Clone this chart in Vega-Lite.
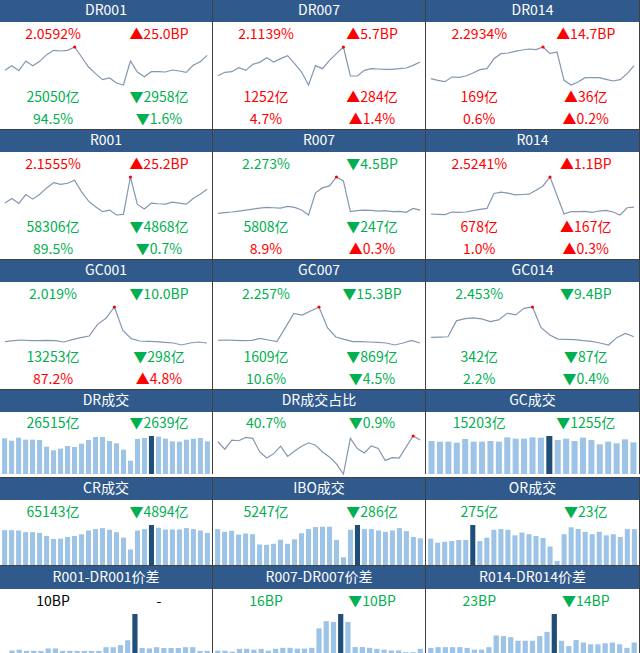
{
"$schema":"https://vega.github.io/schema/vega-lite/v6.json",
"padding":0,
"background":"#FFFFFF",
"spacing":0,
"config":{"view":{"stroke":null},"axis":{"disable":true},"legend":{"disable":true},"concat":{"spacing":0},"text":{"font":"Noto Sans CJK SC","fontSize":14}},
"datasets":{
"tx":[
{"c":"DR001","s":"top","k":"level","v":"2.0592%","dir":"up"},{"c":"DR001","s":"top","k":"change","v":"▲25.0BP","dir":"up"},{"c":"DR001","s":"vol","k":"level","v":"25050亿","dir":"down"},{"c":"DR001","s":"vol","k":"change","v":"▼2958亿","dir":"down"},{"c":"DR001","s":"share","k":"level","v":"94.5%","dir":"down"},{"c":"DR001","s":"share","k":"change","v":"▼1.6%","dir":"down"},
{"c":"DR007","s":"top","k":"level","v":"2.1139%","dir":"up"},{"c":"DR007","s":"top","k":"change","v":"▲5.7BP","dir":"up"},{"c":"DR007","s":"vol","k":"level","v":"1252亿","dir":"up"},{"c":"DR007","s":"vol","k":"change","v":"▲284亿","dir":"up"},{"c":"DR007","s":"share","k":"level","v":"4.7%","dir":"up"},{"c":"DR007","s":"share","k":"change","v":"▲1.4%","dir":"up"},
{"c":"DR014","s":"top","k":"level","v":"2.2934%","dir":"up"},{"c":"DR014","s":"top","k":"change","v":"▲14.7BP","dir":"up"},{"c":"DR014","s":"vol","k":"level","v":"169亿","dir":"up"},{"c":"DR014","s":"vol","k":"change","v":"▲36亿","dir":"up"},{"c":"DR014","s":"share","k":"level","v":"0.6%","dir":"up"},{"c":"DR014","s":"share","k":"change","v":"▲0.2%","dir":"up"},
{"c":"R001","s":"top","k":"level","v":"2.1555%","dir":"up"},{"c":"R001","s":"top","k":"change","v":"▲25.2BP","dir":"up"},{"c":"R001","s":"vol","k":"level","v":"58306亿","dir":"down"},{"c":"R001","s":"vol","k":"change","v":"▼4868亿","dir":"down"},{"c":"R001","s":"share","k":"level","v":"89.5%","dir":"down"},{"c":"R001","s":"share","k":"change","v":"▼0.7%","dir":"down"},
{"c":"R007","s":"top","k":"level","v":"2.273%","dir":"down"},{"c":"R007","s":"top","k":"change","v":"▼4.5BP","dir":"down"},{"c":"R007","s":"vol","k":"level","v":"5808亿","dir":"down"},{"c":"R007","s":"vol","k":"change","v":"▼247亿","dir":"down"},{"c":"R007","s":"share","k":"level","v":"8.9%","dir":"up"},{"c":"R007","s":"share","k":"change","v":"▲0.3%","dir":"up"},
{"c":"R014","s":"top","k":"level","v":"2.5241%","dir":"up"},{"c":"R014","s":"top","k":"change","v":"▲1.1BP","dir":"up"},{"c":"R014","s":"vol","k":"level","v":"678亿","dir":"up"},{"c":"R014","s":"vol","k":"change","v":"▲167亿","dir":"up"},{"c":"R014","s":"share","k":"level","v":"1.0%","dir":"up"},{"c":"R014","s":"share","k":"change","v":"▲0.3%","dir":"up"},
{"c":"GC001","s":"top","k":"level","v":"2.019%","dir":"down"},{"c":"GC001","s":"top","k":"change","v":"▼10.0BP","dir":"down"},{"c":"GC001","s":"vol","k":"level","v":"13253亿","dir":"down"},{"c":"GC001","s":"vol","k":"change","v":"▼298亿","dir":"down"},{"c":"GC001","s":"share","k":"level","v":"87.2%","dir":"up"},{"c":"GC001","s":"share","k":"change","v":"▲4.8%","dir":"up"},
{"c":"GC007","s":"top","k":"level","v":"2.257%","dir":"down"},{"c":"GC007","s":"top","k":"change","v":"▼15.3BP","dir":"down"},{"c":"GC007","s":"vol","k":"level","v":"1609亿","dir":"down"},{"c":"GC007","s":"vol","k":"change","v":"▼869亿","dir":"down"},{"c":"GC007","s":"share","k":"level","v":"10.6%","dir":"down"},{"c":"GC007","s":"share","k":"change","v":"▼4.5%","dir":"down"},
{"c":"GC014","s":"top","k":"level","v":"2.453%","dir":"down"},{"c":"GC014","s":"top","k":"change","v":"▼9.4BP","dir":"down"},{"c":"GC014","s":"vol","k":"level","v":"342亿","dir":"down"},{"c":"GC014","s":"vol","k":"change","v":"▼87亿","dir":"down"},{"c":"GC014","s":"share","k":"level","v":"2.2%","dir":"down"},{"c":"GC014","s":"share","k":"change","v":"▼0.4%","dir":"down"},
{"c":"DRV","s":"top","k":"level","v":"26515亿","dir":"down"},{"c":"DRV","s":"top","k":"change","v":"▼2639亿","dir":"down"},
{"c":"DRS","s":"top","k":"level","v":"40.7%","dir":"down"},{"c":"DRS","s":"top","k":"change","v":"▼0.9%","dir":"down"},
{"c":"GCV","s":"top","k":"level","v":"15203亿","dir":"down"},{"c":"GCV","s":"top","k":"change","v":"▼1255亿","dir":"down"},
{"c":"CRV","s":"top","k":"level","v":"65143亿","dir":"down"},{"c":"CRV","s":"top","k":"change","v":"▼4894亿","dir":"down"},
{"c":"IBO","s":"top","k":"level","v":"5247亿","dir":"down"},{"c":"IBO","s":"top","k":"change","v":"▼286亿","dir":"down"},
{"c":"ORV","s":"top","k":"level","v":"275亿","dir":"down"},{"c":"ORV","s":"top","k":"change","v":"▼23亿","dir":"down"},
{"c":"SP1","s":"top","k":"level","v":"10BP","dir":"flat"},{"c":"SP1","s":"top","k":"change","v":"-","dir":"flat"},
{"c":"SP7","s":"top","k":"level","v":"16BP","dir":"down"},{"c":"SP7","s":"top","k":"change","v":"▼10BP","dir":"down"},
{"c":"SP14","s":"top","k":"level","v":"23BP","dir":"down"},{"c":"SP14","s":"top","k":"change","v":"▼14BP","dir":"down"}
],
"ln":[
{"c":"DR001","d":0,"r":1.9192},{"c":"DR001","d":1,"r":1.9472},{"c":"DR001","d":2,"r":1.9172},{"c":"DR001","d":3,"r":1.9752},{"c":"DR001","d":4,"r":1.9472},{"c":"DR001","d":5,"r":1.9732},{"c":"DR001","d":6,"r":2.0132},{"c":"DR001","d":7,"r":2.0392},{"c":"DR001","d":8,"r":2.0352},{"c":"DR001","d":9,"r":2.0392},{"c":"DR001","d":10,"r":2.0592},{"c":"DR001","d":11,"r":1.9992},{"c":"DR001","d":12,"r":1.9392},{"c":"DR001","d":13,"r":1.8992},{"c":"DR001","d":14,"r":1.8632},{"c":"DR001","d":15,"r":1.8732},{"c":"DR001","d":16,"r":1.8432},{"c":"DR001","d":17,"r":1.8312},{"c":"DR001","d":18,"r":1.9752},{"c":"DR001","d":19,"r":1.9092},{"c":"DR001","d":20,"r":1.8812},{"c":"DR001","d":21,"r":1.9112},{"c":"DR001","d":22,"r":1.9112},{"c":"DR001","d":23,"r":1.9092},{"c":"DR001","d":24,"r":1.9212},{"c":"DR001","d":25,"r":1.9152},{"c":"DR001","d":26,"r":1.9072},{"c":"DR001","d":27,"r":1.9492},{"c":"DR001","d":28,"r":1.9712},{"c":"DR001","d":29,"r":2.0092},
{"c":"DR007","d":0,"r":1.9419},{"c":"DR007","d":1,"r":1.9619},{"c":"DR007","d":2,"r":1.9659},{"c":"DR007","d":3,"r":1.9899},{"c":"DR007","d":4,"r":1.9739},{"c":"DR007","d":5,"r":2.0099},{"c":"DR007","d":6,"r":2.0219},{"c":"DR007","d":7,"r":2.0499},{"c":"DR007","d":8,"r":2.0239},{"c":"DR007","d":9,"r":2.0439},{"c":"DR007","d":10,"r":2.0619},{"c":"DR007","d":11,"r":2.0139},{"c":"DR007","d":12,"r":1.9639},{"c":"DR007","d":13,"r":1.8859},{"c":"DR007","d":14,"r":2.0019},{"c":"DR007","d":15,"r":1.9839},{"c":"DR007","d":16,"r":2.0339},{"c":"DR007","d":17,"r":2.0739},{"c":"DR007","d":18,"r":2.1139},{"c":"DR007","d":19,"r":1.9399},{"c":"DR007","d":20,"r":1.9399},{"c":"DR007","d":21,"r":1.9739},{"c":"DR007","d":22,"r":1.9839},{"c":"DR007","d":23,"r":1.9819},{"c":"DR007","d":24,"r":1.9799},{"c":"DR007","d":25,"r":1.9799},{"c":"DR007","d":26,"r":1.9839},{"c":"DR007","d":27,"r":1.9879},{"c":"DR007","d":28,"r":2.0039},{"c":"DR007","d":29,"r":2.0239},
{"c":"DR014","d":0,"r":2.1034},{"c":"DR014","d":1,"r":2.0934},{"c":"DR014","d":2,"r":2.0854},{"c":"DR014","d":3,"r":2.1134},{"c":"DR014","d":4,"r":2.1114},{"c":"DR014","d":5,"r":2.1194},{"c":"DR014","d":6,"r":2.1374},{"c":"DR014","d":7,"r":2.1574},{"c":"DR014","d":8,"r":2.1634},{"c":"DR014","d":9,"r":2.2234},{"c":"DR014","d":10,"r":2.2534},{"c":"DR014","d":11,"r":2.2574},{"c":"DR014","d":12,"r":2.2674},{"c":"DR014","d":13,"r":2.2754},{"c":"DR014","d":14,"r":2.2814},{"c":"DR014","d":15,"r":2.2774},{"c":"DR014","d":16,"r":2.2934},{"c":"DR014","d":17,"r":2.2534},{"c":"DR014","d":18,"r":2.2634},{"c":"DR014","d":19,"r":2.0934},{"c":"DR014","d":20,"r":2.0654},{"c":"DR014","d":21,"r":2.0834},{"c":"DR014","d":22,"r":2.1094},{"c":"DR014","d":23,"r":2.1094},{"c":"DR014","d":24,"r":2.1094},{"c":"DR014","d":25,"r":2.0994},{"c":"DR014","d":26,"r":2.0894},{"c":"DR014","d":27,"r":2.0974},{"c":"DR014","d":28,"r":2.1334},{"c":"DR014","d":29,"r":2.1814},
{"c":"R001","d":0,"r":1.9975},{"c":"R001","d":1,"r":2.0255},{"c":"R001","d":2,"r":1.9955},{"c":"R001","d":3,"r":2.0495},{"c":"R001","d":4,"r":2.0215},{"c":"R001","d":5,"r":2.0515},{"c":"R001","d":6,"r":2.0895},{"c":"R001","d":7,"r":2.1215},{"c":"R001","d":8,"r":2.1115},{"c":"R001","d":9,"r":2.1175},{"c":"R001","d":10,"r":2.1355},{"c":"R001","d":11,"r":2.0655},{"c":"R001","d":12,"r":2.0095},{"c":"R001","d":13,"r":1.9755},{"c":"R001","d":14,"r":1.9455},{"c":"R001","d":15,"r":1.9555},{"c":"R001","d":16,"r":1.9255},{"c":"R001","d":17,"r":1.9295},{"c":"R001","d":18,"r":2.1555},{"c":"R001","d":19,"r":1.9895},{"c":"R001","d":20,"r":1.9615},{"c":"R001","d":21,"r":1.9975},{"c":"R001","d":22,"r":1.9935},{"c":"R001","d":23,"r":1.9915},{"c":"R001","d":24,"r":2.0035},{"c":"R001","d":25,"r":1.9975},{"c":"R001","d":26,"r":1.9915},{"c":"R001","d":27,"r":2.0255},{"c":"R001","d":28,"r":2.0515},{"c":"R001","d":29,"r":2.0815},
{"c":"R007","d":0,"r":2.053},{"c":"R007","d":1,"r":2.057},{"c":"R007","d":2,"r":2.061},{"c":"R007","d":3,"r":2.067},{"c":"R007","d":4,"r":2.073},{"c":"R007","d":5,"r":2.079},{"c":"R007","d":6,"r":2.085},{"c":"R007","d":7,"r":2.089},{"c":"R007","d":8,"r":2.087},{"c":"R007","d":9,"r":2.085},{"c":"R007","d":10,"r":2.095},{"c":"R007","d":11,"r":2.089},{"c":"R007","d":12,"r":2.073},{"c":"R007","d":13,"r":2.043},{"c":"R007","d":14,"r":2.177},{"c":"R007","d":15,"r":2.207},{"c":"R007","d":16,"r":2.219},{"c":"R007","d":17,"r":2.273},{"c":"R007","d":18,"r":2.249},{"c":"R007","d":19,"r":2.063},{"c":"R007","d":20,"r":2.069},{"c":"R007","d":21,"r":2.073},{"c":"R007","d":22,"r":2.071},{"c":"R007","d":23,"r":2.067},{"c":"R007","d":24,"r":2.069},{"c":"R007","d":25,"r":2.063},{"c":"R007","d":26,"r":2.065},{"c":"R007","d":27,"r":2.059},{"c":"R007","d":28,"r":2.083},{"c":"R007","d":29,"r":2.073},
{"c":"R014","d":0,"r":2.3001},{"c":"R014","d":1,"r":2.2981},{"c":"R014","d":2,"r":2.2961},{"c":"R014","d":3,"r":2.3121},{"c":"R014","d":4,"r":2.3101},{"c":"R014","d":5,"r":2.3121},{"c":"R014","d":6,"r":2.3201},{"c":"R014","d":7,"r":2.3281},{"c":"R014","d":8,"r":2.3341},{"c":"R014","d":9,"r":2.4241},{"c":"R014","d":10,"r":2.4321},{"c":"R014","d":11,"r":2.4261},{"c":"R014","d":12,"r":2.4161},{"c":"R014","d":13,"r":2.4181},{"c":"R014","d":14,"r":2.4201},{"c":"R014","d":15,"r":2.4441},{"c":"R014","d":16,"r":2.4701},{"c":"R014","d":17,"r":2.5241},{"c":"R014","d":18,"r":2.4121},{"c":"R014","d":19,"r":2.3001},{"c":"R014","d":20,"r":2.3141},{"c":"R014","d":21,"r":2.3141},{"c":"R014","d":22,"r":2.3161},{"c":"R014","d":23,"r":2.3101},{"c":"R014","d":24,"r":2.3181},{"c":"R014","d":25,"r":2.3221},{"c":"R014","d":26,"r":2.3121},{"c":"R014","d":27,"r":2.2941},{"c":"R014","d":28,"r":2.3381},{"c":"R014","d":29,"r":2.3421},
{"c":"GC001","d":0,"r":1.811},{"c":"GC001","d":1,"r":1.817},{"c":"GC001","d":2,"r":1.821},{"c":"GC001","d":3,"r":1.817},{"c":"GC001","d":4,"r":1.817},{"c":"GC001","d":5,"r":1.819},{"c":"GC001","d":6,"r":1.817},{"c":"GC001","d":7,"r":1.809},{"c":"GC001","d":8,"r":1.823},{"c":"GC001","d":9,"r":1.835},{"c":"GC001","d":10,"r":1.845},{"c":"GC001","d":11,"r":1.915},{"c":"GC001","d":12,"r":1.951},{"c":"GC001","d":13,"r":2.019},{"c":"GC001","d":14,"r":1.879},{"c":"GC001","d":15,"r":1.829},{"c":"GC001","d":16,"r":1.815},{"c":"GC001","d":17,"r":1.813},{"c":"GC001","d":18,"r":1.811},{"c":"GC001","d":19,"r":1.807},{"c":"GC001","d":20,"r":1.803},{"c":"GC001","d":21,"r":1.791},{"c":"GC001","d":22,"r":1.803},{"c":"GC001","d":23,"r":1.809},{"c":"GC001","d":24,"r":1.803},
{"c":"GC007","d":0,"r":2.057},{"c":"GC007","d":1,"r":2.059},{"c":"GC007","d":2,"r":2.057},{"c":"GC007","d":3,"r":2.055},{"c":"GC007","d":4,"r":2.057},{"c":"GC007","d":5,"r":2.069},{"c":"GC007","d":6,"r":2.059},{"c":"GC007","d":7,"r":2.049},{"c":"GC007","d":8,"r":2.133},{"c":"GC007","d":9,"r":2.219},{"c":"GC007","d":10,"r":2.209},{"c":"GC007","d":11,"r":2.233},{"c":"GC007","d":12,"r":2.257},{"c":"GC007","d":13,"r":2.133},{"c":"GC007","d":14,"r":2.077},{"c":"GC007","d":15,"r":2.063},{"c":"GC007","d":16,"r":2.049},{"c":"GC007","d":17,"r":2.049},{"c":"GC007","d":18,"r":2.047},{"c":"GC007","d":19,"r":2.045},{"c":"GC007","d":20,"r":2.041},{"c":"GC007","d":21,"r":2.029},{"c":"GC007","d":22,"r":2.041},{"c":"GC007","d":23,"r":2.057},{"c":"GC007","d":24,"r":2.041},
{"c":"GC014","d":0,"r":2.269},{"c":"GC014","d":1,"r":2.271},{"c":"GC014","d":2,"r":2.273},{"c":"GC014","d":3,"r":2.369},{"c":"GC014","d":4,"r":2.383},{"c":"GC014","d":5,"r":2.387},{"c":"GC014","d":6,"r":2.381},{"c":"GC014","d":7,"r":2.365},{"c":"GC014","d":8,"r":2.375},{"c":"GC014","d":9,"r":2.415},{"c":"GC014","d":10,"r":2.405},{"c":"GC014","d":11,"r":2.445},{"c":"GC014","d":12,"r":2.453},{"c":"GC014","d":13,"r":2.329},{"c":"GC014","d":14,"r":2.285},{"c":"GC014","d":15,"r":2.259},{"c":"GC014","d":16,"r":2.257},{"c":"GC014","d":17,"r":2.255},{"c":"GC014","d":18,"r":2.249},{"c":"GC014","d":19,"r":2.245},{"c":"GC014","d":20,"r":2.235},{"c":"GC014","d":21,"r":2.223},{"c":"GC014","d":22,"r":2.269},{"c":"GC014","d":23,"r":2.293},{"c":"GC014","d":24,"r":2.273},
{"c":"DRS","d":0,"r":39.85},{"c":"DRS","d":1,"r":38.75},{"c":"DRS","d":2,"r":40.1},{"c":"DRS","d":3,"r":40.0},{"c":"DRS","d":4,"r":40.5},{"c":"DRS","d":5,"r":40.35},{"c":"DRS","d":6,"r":38.35},{"c":"DRS","d":7,"r":37.45},{"c":"DRS","d":8,"r":38.1},{"c":"DRS","d":9,"r":39.2},{"c":"DRS","d":10,"r":37.7},{"c":"DRS","d":11,"r":38.5},{"c":"DRS","d":12,"r":39.2},{"c":"DRS","d":13,"r":39.7},{"c":"DRS","d":14,"r":39.35},{"c":"DRS","d":15,"r":38.35},{"c":"DRS","d":16,"r":37.6},{"c":"DRS","d":17,"r":36.6},{"c":"DRS","d":18,"r":35.1},{"c":"DRS","d":19,"r":40.35},{"c":"DRS","d":20,"r":38.85},{"c":"DRS","d":21,"r":38.2},{"c":"DRS","d":22,"r":39.25},{"c":"DRS","d":23,"r":38.85},{"c":"DRS","d":24,"r":37.1},{"c":"DRS","d":25,"r":37.5},{"c":"DRS","d":26,"r":37.45},{"c":"DRS","d":27,"r":39.1},{"c":"DRS","d":28,"r":40.7},{"c":"DRS","d":29,"r":40.1}
],
"br":[
{"c":"DRV","d":0,"v":24888},{"c":"DRV","d":1,"v":23260},{"c":"DRV","d":2,"v":25353},{"c":"DRV","d":3,"v":23958},{"c":"DRV","d":4,"v":23958},{"c":"DRV","d":5,"v":23725},{"c":"DRV","d":6,"v":19073},{"c":"DRV","d":7,"v":16515},{"c":"DRV","d":8,"v":17678},{"c":"DRV","d":9,"v":19538},{"c":"DRV","d":10,"v":18841},{"c":"DRV","d":11,"v":21167},{"c":"DRV","d":12,"v":23725},{"c":"DRV","d":13,"v":25819},{"c":"DRV","d":14,"v":25819},{"c":"DRV","d":15,"v":23027},{"c":"DRV","d":16,"v":21399},{"c":"DRV","d":17,"v":16980},{"c":"DRV","d":18,"v":9304},{"c":"DRV","d":19,"v":24423},{"c":"DRV","d":20,"v":25121},{"c":"DRV","d":21,"v":26515},{"c":"DRV","d":22,"v":26051},{"c":"DRV","d":23,"v":24656},{"c":"DRV","d":24,"v":22795},{"c":"DRV","d":25,"v":22562},{"c":"DRV","d":26,"v":23958},{"c":"DRV","d":27,"v":24656},{"c":"DRV","d":28,"v":25121},{"c":"DRV","d":29,"v":22795},
{"c":"GCV","d":0,"v":13203},{"c":"GCV","d":1,"v":12936},{"c":"GCV","d":2,"v":12936},{"c":"GCV","d":3,"v":12536},{"c":"GCV","d":4,"v":14003},{"c":"GCV","d":5,"v":12936},{"c":"GCV","d":6,"v":12936},{"c":"GCV","d":7,"v":13203},{"c":"GCV","d":8,"v":12936},{"c":"GCV","d":9,"v":14670},{"c":"GCV","d":10,"v":14136},{"c":"GCV","d":11,"v":14136},{"c":"GCV","d":12,"v":14670},{"c":"GCV","d":13,"v":14536},{"c":"GCV","d":14,"v":15203},{"c":"GCV","d":15,"v":13603},{"c":"GCV","d":16,"v":14136},{"c":"GCV","d":17,"v":13203},{"c":"GCV","d":18,"v":14536},{"c":"GCV","d":19,"v":13603},{"c":"GCV","d":20,"v":11869},{"c":"GCV","d":21,"v":12936},{"c":"GCV","d":22,"v":12269},{"c":"GCV","d":23,"v":13869},{"c":"GCV","d":24,"v":12669},
{"c":"CRV","d":0,"v":56794},{"c":"CRV","d":1,"v":56794},{"c":"CRV","d":2,"v":56237},{"c":"CRV","d":3,"v":53453},{"c":"CRV","d":4,"v":53453},{"c":"CRV","d":5,"v":52339},{"c":"CRV","d":6,"v":47328},{"c":"CRV","d":7,"v":42317},{"c":"CRV","d":8,"v":42874},{"c":"CRV","d":9,"v":45658},{"c":"CRV","d":10,"v":47328},{"c":"CRV","d":11,"v":50112},{"c":"CRV","d":12,"v":56237},{"c":"CRV","d":13,"v":58464},{"c":"CRV","d":14,"v":60134},{"c":"CRV","d":15,"v":57350},{"c":"CRV","d":16,"v":53453},{"c":"CRV","d":17,"v":44544},{"c":"CRV","d":18,"v":25056},{"c":"CRV","d":19,"v":56237},{"c":"CRV","d":20,"v":58464},{"c":"CRV","d":21,"v":65143},{"c":"CRV","d":22,"v":60691},{"c":"CRV","d":23,"v":57907},{"c":"CRV","d":24,"v":57907},{"c":"CRV","d":25,"v":57907},{"c":"CRV","d":26,"v":60134},{"c":"CRV","d":27,"v":58464},{"c":"CRV","d":28,"v":56237},{"c":"CRV","d":29,"v":52339},
{"c":"IBO","d":0,"v":4709},{"c":"IBO","d":1,"v":4350},{"c":"IBO","d":2,"v":4485},{"c":"IBO","d":3,"v":3992},{"c":"IBO","d":4,"v":4126},{"c":"IBO","d":5,"v":4037},{"c":"IBO","d":6,"v":2691},{"c":"IBO","d":7,"v":2646},{"c":"IBO","d":8,"v":2781},{"c":"IBO","d":9,"v":3319},{"c":"IBO","d":10,"v":2781},{"c":"IBO","d":11,"v":3364},{"c":"IBO","d":12,"v":4171},{"c":"IBO","d":13,"v":4709},{"c":"IBO","d":14,"v":4978},{"c":"IBO","d":15,"v":5023},{"c":"IBO","d":16,"v":5023},{"c":"IBO","d":17,"v":3274},{"c":"IBO","d":18,"v":1032},{"c":"IBO","d":19,"v":4620},{"c":"IBO","d":20,"v":5247},{"c":"IBO","d":21,"v":4709},{"c":"IBO","d":22,"v":4709},{"c":"IBO","d":23,"v":4530},{"c":"IBO","d":24,"v":4350},{"c":"IBO","d":25,"v":4530},{"c":"IBO","d":26,"v":4844},{"c":"IBO","d":27,"v":4440},{"c":"IBO","d":28,"v":3678},{"c":"IBO","d":29,"v":3498},
{"c":"ORV","d":0,"v":181},{"c":"ORV","d":1,"v":153},{"c":"ORV","d":2,"v":160},{"c":"ORV","d":3,"v":165},{"c":"ORV","d":4,"v":172},{"c":"ORV","d":5,"v":172},{"c":"ORV","d":6,"v":275},{"c":"ORV","d":7,"v":165},{"c":"ORV","d":8,"v":188},{"c":"ORV","d":9,"v":242},{"c":"ORV","d":10,"v":247},{"c":"ORV","d":11,"v":242},{"c":"ORV","d":12,"v":204},{"c":"ORV","d":13,"v":223},{"c":"ORV","d":14,"v":212},{"c":"ORV","d":15,"v":200},{"c":"ORV","d":16,"v":186},{"c":"ORV","d":17,"v":127},{"c":"ORV","d":18,"v":28},{"c":"ORV","d":19,"v":212},{"c":"ORV","d":20,"v":259},{"c":"ORV","d":21,"v":247},{"c":"ORV","d":22,"v":228},{"c":"ORV","d":23,"v":212},{"c":"ORV","d":24,"v":228},{"c":"ORV","d":25,"v":204},{"c":"ORV","d":26,"v":212},{"c":"ORV","d":27,"v":193},{"c":"ORV","d":28,"v":247},{"c":"ORV","d":29,"v":247},
{"c":"SP1","d":0,"v":0},{"c":"SP1","d":1,"v":1.1},{"c":"SP1","d":2,"v":1.3},{"c":"SP1","d":3,"v":1.0},{"c":"SP1","d":4,"v":1.0},{"c":"SP1","d":5,"v":1.0},{"c":"SP1","d":6,"v":1.6},{"c":"SP1","d":7,"v":1.6},{"c":"SP1","d":8,"v":1.0},{"c":"SP1","d":9,"v":1.0},{"c":"SP1","d":10,"v":1.0},{"c":"SP1","d":11,"v":1.0},{"c":"SP1","d":12,"v":1.0},{"c":"SP1","d":13,"v":1.0},{"c":"SP1","d":14,"v":1.9},{"c":"SP1","d":15,"v":1.9},{"c":"SP1","d":16,"v":2.4},{"c":"SP1","d":17,"v":3.6},{"c":"SP1","d":18,"v":10},{"c":"SP1","d":19,"v":1.7},{"c":"SP1","d":20,"v":1.6},{"c":"SP1","d":21,"v":1.9},{"c":"SP1","d":22,"v":1.7},{"c":"SP1","d":23,"v":1.7},{"c":"SP1","d":24,"v":1.7},{"c":"SP1","d":25,"v":1.9},{"c":"SP1","d":26,"v":1.9},{"c":"SP1","d":27,"v":1.0},{"c":"SP1","d":28,"v":1.0},
{"c":"SP7","d":0,"v":1.7},{"c":"SP7","d":1,"v":1.7},{"c":"SP7","d":2,"v":1.3},{"c":"SP7","d":3,"v":2.4},{"c":"SP7","d":4,"v":2.4},{"c":"SP7","d":5,"v":2.1},{"c":"SP7","d":6,"v":2.4},{"c":"SP7","d":7,"v":1.7},{"c":"SP7","d":8,"v":2.4},{"c":"SP7","d":9,"v":2.8},{"c":"SP7","d":10,"v":2.8},{"c":"SP7","d":11,"v":2.5},{"c":"SP7","d":12,"v":2.5},{"c":"SP7","d":13,"v":2.8},{"c":"SP7","d":14,"v":10.4},{"c":"SP7","d":15,"v":13.2},{"c":"SP7","d":16,"v":12.9},{"c":"SP7","d":17,"v":16},{"c":"SP7","d":18,"v":12.9},{"c":"SP7","d":19,"v":3.1},{"c":"SP7","d":20,"v":3.1},{"c":"SP7","d":21,"v":2.8},{"c":"SP7","d":22,"v":2.4},{"c":"SP7","d":23,"v":2.1},{"c":"SP7","d":24,"v":1.8},{"c":"SP7","d":25,"v":1.8},{"c":"SP7","d":26,"v":1.1},{"c":"SP7","d":27,"v":1.1},{"c":"SP7","d":28,"v":2.4},
{"c":"SP14","d":0,"v":4.0},{"c":"SP14","d":1,"v":4.4},{"c":"SP14","d":2,"v":4.4},{"c":"SP14","d":3,"v":4.4},{"c":"SP14","d":4,"v":4.4},{"c":"SP14","d":5,"v":4.0},{"c":"SP14","d":6,"v":3.0},{"c":"SP14","d":7,"v":3.0},{"c":"SP14","d":8,"v":4.4},{"c":"SP14","d":9,"v":11.0},{"c":"SP14","d":10,"v":10.6},{"c":"SP14","d":11,"v":10.0},{"c":"SP14","d":12,"v":8.0},{"c":"SP14","d":13,"v":8.0},{"c":"SP14","d":14,"v":8.0},{"c":"SP14","d":15,"v":10.6},{"c":"SP14","d":16,"v":13.0},{"c":"SP14","d":17,"v":23},{"c":"SP14","d":18,"v":8.0},{"c":"SP14","d":19,"v":5.0},{"c":"SP14","d":20,"v":8.4},{"c":"SP14","d":21,"v":7.0},{"c":"SP14","d":22,"v":6.0},{"c":"SP14","d":23,"v":6.0},{"c":"SP14","d":24,"v":6.6},{"c":"SP14","d":25,"v":7.0},{"c":"SP14","d":26,"v":6.0},{"c":"SP14","d":27,"v":4.0},{"c":"SP14","d":28,"v":7.0}
]
},
"vconcat":[
{"hconcat":[
{"vconcat":[
{"width":212,"height":22,"view":{"fill":"#305A8C","stroke":null},"data":{"values":[{"t":"DR001"}]},"mark":{"type":"text","color":"#FFFFFF"},"encoding":{"text":{"field":"t","type":"nominal"}}},
{"width":212,"height":25,"data":{"name":"tx"},"transform":[{"filter":"datum.c==='DR001'&&datum.s==='top'"}],"mark":"text","encoding":{"x":{"field":"k","type":"nominal","scale":{"domain":["level","change"]}},"text":{"field":"v","type":"nominal"},"color":{"field":"dir","type":"nominal","scale":{"domain":["up","down","flat"],"range":["#FF0000","#00B050","#000000"]}}}},
{"width":212,"height":38,"data":{"name":"ln"},"transform":[{"filter":"datum.c==='DR001'"}],"layer":[{"mark":{"type":"line","color":"#8497B0","strokeWidth":1.2},"encoding":{"x":{"field":"d","type":"ordinal","scale":{"type":"point","padding":0.7}},"y":{"field":"r","type":"quantitative","scale":{"zero":false,"nice":false}}}},{"transform":[{"joinaggregate":[{"op":"max","field":"r","as":"mx"}]},{"filter":"datum.r===datum.mx"}],"mark":{"type":"circle","color":"#FF0000","size":10,"opacity":1},"encoding":{"x":{"field":"d","type":"ordinal"},"y":{"field":"r","type":"quantitative"}}}]},
{"width":212,"height":26,"data":{"name":"tx"},"transform":[{"filter":"datum.c==='DR001'&&datum.s==='vol'"}],"mark":"text","encoding":{"x":{"field":"k","type":"nominal","scale":{"domain":["level","change"]}},"text":{"field":"v","type":"nominal"},"color":{"field":"dir","type":"nominal","scale":{"domain":["up","down","flat"],"range":["#FF0000","#00B050","#000000"]}}}},
{"width":212,"height":18,"data":{"name":"tx"},"transform":[{"filter":"datum.c==='DR001'&&datum.s==='share'"}],"mark":"text","encoding":{"x":{"field":"k","type":"nominal","scale":{"domain":["level","change"]}},"text":{"field":"v","type":"nominal"},"color":{"field":"dir","type":"nominal","scale":{"domain":["up","down","flat"],"range":["#FF0000","#00B050","#000000"]}}}}
],"spacing":0,"bounds":"flush"},
{"width":1,"height":129,"view":{"fill":"#404040","stroke":null},"data":{"values":[]},"mark":"text","encoding":{}},
{"vconcat":[
{"width":212,"height":22,"view":{"fill":"#305A8C","stroke":null},"data":{"values":[{"t":"DR007"}]},"mark":{"type":"text","color":"#FFFFFF"},"encoding":{"text":{"field":"t","type":"nominal"}}},
{"width":212,"height":25,"data":{"name":"tx"},"transform":[{"filter":"datum.c==='DR007'&&datum.s==='top'"}],"mark":"text","encoding":{"x":{"field":"k","type":"nominal","scale":{"domain":["level","change"]}},"text":{"field":"v","type":"nominal"},"color":{"field":"dir","type":"nominal","scale":{"domain":["up","down","flat"],"range":["#FF0000","#00B050","#000000"]}}}},
{"width":212,"height":38,"data":{"name":"ln"},"transform":[{"filter":"datum.c==='DR007'"}],"layer":[{"mark":{"type":"line","color":"#8497B0","strokeWidth":1.2},"encoding":{"x":{"field":"d","type":"ordinal","scale":{"type":"point","padding":0.7}},"y":{"field":"r","type":"quantitative","scale":{"zero":false,"nice":false}}}},{"transform":[{"joinaggregate":[{"op":"max","field":"r","as":"mx"}]},{"filter":"datum.r===datum.mx"}],"mark":{"type":"circle","color":"#FF0000","size":10,"opacity":1},"encoding":{"x":{"field":"d","type":"ordinal"},"y":{"field":"r","type":"quantitative"}}}]},
{"width":212,"height":26,"data":{"name":"tx"},"transform":[{"filter":"datum.c==='DR007'&&datum.s==='vol'"}],"mark":"text","encoding":{"x":{"field":"k","type":"nominal","scale":{"domain":["level","change"]}},"text":{"field":"v","type":"nominal"},"color":{"field":"dir","type":"nominal","scale":{"domain":["up","down","flat"],"range":["#FF0000","#00B050","#000000"]}}}},
{"width":212,"height":18,"data":{"name":"tx"},"transform":[{"filter":"datum.c==='DR007'&&datum.s==='share'"}],"mark":"text","encoding":{"x":{"field":"k","type":"nominal","scale":{"domain":["level","change"]}},"text":{"field":"v","type":"nominal"},"color":{"field":"dir","type":"nominal","scale":{"domain":["up","down","flat"],"range":["#FF0000","#00B050","#000000"]}}}}
],"spacing":0,"bounds":"flush"},
{"width":1,"height":129,"view":{"fill":"#404040","stroke":null},"data":{"values":[]},"mark":"text","encoding":{}},
{"vconcat":[
{"width":213,"height":22,"view":{"fill":"#305A8C","stroke":null},"data":{"values":[{"t":"DR014"}]},"mark":{"type":"text","color":"#FFFFFF"},"encoding":{"text":{"field":"t","type":"nominal"}}},
{"width":213,"height":25,"data":{"name":"tx"},"transform":[{"filter":"datum.c==='DR014'&&datum.s==='top'"}],"mark":"text","encoding":{"x":{"field":"k","type":"nominal","scale":{"domain":["level","change"]}},"text":{"field":"v","type":"nominal"},"color":{"field":"dir","type":"nominal","scale":{"domain":["up","down","flat"],"range":["#FF0000","#00B050","#000000"]}}}},
{"width":213,"height":38,"data":{"name":"ln"},"transform":[{"filter":"datum.c==='DR014'"}],"layer":[{"mark":{"type":"line","color":"#8497B0","strokeWidth":1.2},"encoding":{"x":{"field":"d","type":"ordinal","scale":{"type":"point","padding":0.7}},"y":{"field":"r","type":"quantitative","scale":{"zero":false,"nice":false}}}},{"transform":[{"joinaggregate":[{"op":"max","field":"r","as":"mx"}]},{"filter":"datum.r===datum.mx"}],"mark":{"type":"circle","color":"#FF0000","size":10,"opacity":1},"encoding":{"x":{"field":"d","type":"ordinal"},"y":{"field":"r","type":"quantitative"}}}]},
{"width":213,"height":26,"data":{"name":"tx"},"transform":[{"filter":"datum.c==='DR014'&&datum.s==='vol'"}],"mark":"text","encoding":{"x":{"field":"k","type":"nominal","scale":{"domain":["level","change"]}},"text":{"field":"v","type":"nominal"},"color":{"field":"dir","type":"nominal","scale":{"domain":["up","down","flat"],"range":["#FF0000","#00B050","#000000"]}}}},
{"width":213,"height":18,"data":{"name":"tx"},"transform":[{"filter":"datum.c==='DR014'&&datum.s==='share'"}],"mark":"text","encoding":{"x":{"field":"k","type":"nominal","scale":{"domain":["level","change"]}},"text":{"field":"v","type":"nominal"},"color":{"field":"dir","type":"nominal","scale":{"domain":["up","down","flat"],"range":["#FF0000","#00B050","#000000"]}}}}
],"spacing":0,"bounds":"flush"},
{"width":1,"height":129,"view":{"fill":"#404040","stroke":null},"data":{"values":[]},"mark":"text","encoding":{}}
],"spacing":0},
{"width":640,"height":1,"view":{"fill":"#404040","stroke":null},"data":{"values":[]},"mark":"text","encoding":{}},
{"hconcat":[
{"vconcat":[
{"width":212,"height":22,"view":{"fill":"#305A8C","stroke":null},"data":{"values":[{"t":"R001"}]},"mark":{"type":"text","color":"#FFFFFF"},"encoding":{"text":{"field":"t","type":"nominal"}}},
{"width":212,"height":25,"data":{"name":"tx"},"transform":[{"filter":"datum.c==='R001'&&datum.s==='top'"}],"mark":"text","encoding":{"x":{"field":"k","type":"nominal","scale":{"domain":["level","change"]}},"text":{"field":"v","type":"nominal"},"color":{"field":"dir","type":"nominal","scale":{"domain":["up","down","flat"],"range":["#FF0000","#00B050","#000000"]}}}},
{"width":212,"height":38,"data":{"name":"ln"},"transform":[{"filter":"datum.c==='R001'"}],"layer":[{"mark":{"type":"line","color":"#8497B0","strokeWidth":1.2},"encoding":{"x":{"field":"d","type":"ordinal","scale":{"type":"point","padding":0.7}},"y":{"field":"r","type":"quantitative","scale":{"zero":false,"nice":false}}}},{"transform":[{"joinaggregate":[{"op":"max","field":"r","as":"mx"}]},{"filter":"datum.r===datum.mx"}],"mark":{"type":"circle","color":"#FF0000","size":10,"opacity":1},"encoding":{"x":{"field":"d","type":"ordinal"},"y":{"field":"r","type":"quantitative"}}}]},
{"width":212,"height":26,"data":{"name":"tx"},"transform":[{"filter":"datum.c==='R001'&&datum.s==='vol'"}],"mark":"text","encoding":{"x":{"field":"k","type":"nominal","scale":{"domain":["level","change"]}},"text":{"field":"v","type":"nominal"},"color":{"field":"dir","type":"nominal","scale":{"domain":["up","down","flat"],"range":["#FF0000","#00B050","#000000"]}}}},
{"width":212,"height":18,"data":{"name":"tx"},"transform":[{"filter":"datum.c==='R001'&&datum.s==='share'"}],"mark":"text","encoding":{"x":{"field":"k","type":"nominal","scale":{"domain":["level","change"]}},"text":{"field":"v","type":"nominal"},"color":{"field":"dir","type":"nominal","scale":{"domain":["up","down","flat"],"range":["#FF0000","#00B050","#000000"]}}}}
],"spacing":0,"bounds":"flush"},
{"width":1,"height":129,"view":{"fill":"#404040","stroke":null},"data":{"values":[]},"mark":"text","encoding":{}},
{"vconcat":[
{"width":212,"height":22,"view":{"fill":"#305A8C","stroke":null},"data":{"values":[{"t":"R007"}]},"mark":{"type":"text","color":"#FFFFFF"},"encoding":{"text":{"field":"t","type":"nominal"}}},
{"width":212,"height":25,"data":{"name":"tx"},"transform":[{"filter":"datum.c==='R007'&&datum.s==='top'"}],"mark":"text","encoding":{"x":{"field":"k","type":"nominal","scale":{"domain":["level","change"]}},"text":{"field":"v","type":"nominal"},"color":{"field":"dir","type":"nominal","scale":{"domain":["up","down","flat"],"range":["#FF0000","#00B050","#000000"]}}}},
{"width":212,"height":38,"data":{"name":"ln"},"transform":[{"filter":"datum.c==='R007'"}],"layer":[{"mark":{"type":"line","color":"#8497B0","strokeWidth":1.2},"encoding":{"x":{"field":"d","type":"ordinal","scale":{"type":"point","padding":0.7}},"y":{"field":"r","type":"quantitative","scale":{"zero":false,"nice":false}}}},{"transform":[{"joinaggregate":[{"op":"max","field":"r","as":"mx"}]},{"filter":"datum.r===datum.mx"}],"mark":{"type":"circle","color":"#FF0000","size":10,"opacity":1},"encoding":{"x":{"field":"d","type":"ordinal"},"y":{"field":"r","type":"quantitative"}}}]},
{"width":212,"height":26,"data":{"name":"tx"},"transform":[{"filter":"datum.c==='R007'&&datum.s==='vol'"}],"mark":"text","encoding":{"x":{"field":"k","type":"nominal","scale":{"domain":["level","change"]}},"text":{"field":"v","type":"nominal"},"color":{"field":"dir","type":"nominal","scale":{"domain":["up","down","flat"],"range":["#FF0000","#00B050","#000000"]}}}},
{"width":212,"height":18,"data":{"name":"tx"},"transform":[{"filter":"datum.c==='R007'&&datum.s==='share'"}],"mark":"text","encoding":{"x":{"field":"k","type":"nominal","scale":{"domain":["level","change"]}},"text":{"field":"v","type":"nominal"},"color":{"field":"dir","type":"nominal","scale":{"domain":["up","down","flat"],"range":["#FF0000","#00B050","#000000"]}}}}
],"spacing":0,"bounds":"flush"},
{"width":1,"height":129,"view":{"fill":"#404040","stroke":null},"data":{"values":[]},"mark":"text","encoding":{}},
{"vconcat":[
{"width":213,"height":22,"view":{"fill":"#305A8C","stroke":null},"data":{"values":[{"t":"R014"}]},"mark":{"type":"text","color":"#FFFFFF"},"encoding":{"text":{"field":"t","type":"nominal"}}},
{"width":213,"height":25,"data":{"name":"tx"},"transform":[{"filter":"datum.c==='R014'&&datum.s==='top'"}],"mark":"text","encoding":{"x":{"field":"k","type":"nominal","scale":{"domain":["level","change"]}},"text":{"field":"v","type":"nominal"},"color":{"field":"dir","type":"nominal","scale":{"domain":["up","down","flat"],"range":["#FF0000","#00B050","#000000"]}}}},
{"width":213,"height":38,"data":{"name":"ln"},"transform":[{"filter":"datum.c==='R014'"}],"layer":[{"mark":{"type":"line","color":"#8497B0","strokeWidth":1.2},"encoding":{"x":{"field":"d","type":"ordinal","scale":{"type":"point","padding":0.7}},"y":{"field":"r","type":"quantitative","scale":{"zero":false,"nice":false}}}},{"transform":[{"joinaggregate":[{"op":"max","field":"r","as":"mx"}]},{"filter":"datum.r===datum.mx"}],"mark":{"type":"circle","color":"#FF0000","size":10,"opacity":1},"encoding":{"x":{"field":"d","type":"ordinal"},"y":{"field":"r","type":"quantitative"}}}]},
{"width":213,"height":26,"data":{"name":"tx"},"transform":[{"filter":"datum.c==='R014'&&datum.s==='vol'"}],"mark":"text","encoding":{"x":{"field":"k","type":"nominal","scale":{"domain":["level","change"]}},"text":{"field":"v","type":"nominal"},"color":{"field":"dir","type":"nominal","scale":{"domain":["up","down","flat"],"range":["#FF0000","#00B050","#000000"]}}}},
{"width":213,"height":18,"data":{"name":"tx"},"transform":[{"filter":"datum.c==='R014'&&datum.s==='share'"}],"mark":"text","encoding":{"x":{"field":"k","type":"nominal","scale":{"domain":["level","change"]}},"text":{"field":"v","type":"nominal"},"color":{"field":"dir","type":"nominal","scale":{"domain":["up","down","flat"],"range":["#FF0000","#00B050","#000000"]}}}}
],"spacing":0,"bounds":"flush"},
{"width":1,"height":129,"view":{"fill":"#404040","stroke":null},"data":{"values":[]},"mark":"text","encoding":{}}
],"spacing":0},
{"width":640,"height":1,"view":{"fill":"#404040","stroke":null},"data":{"values":[]},"mark":"text","encoding":{}},
{"hconcat":[
{"vconcat":[
{"width":212,"height":22,"view":{"fill":"#305A8C","stroke":null},"data":{"values":[{"t":"GC001"}]},"mark":{"type":"text","color":"#FFFFFF"},"encoding":{"text":{"field":"t","type":"nominal"}}},
{"width":212,"height":25,"data":{"name":"tx"},"transform":[{"filter":"datum.c==='GC001'&&datum.s==='top'"}],"mark":"text","encoding":{"x":{"field":"k","type":"nominal","scale":{"domain":["level","change"]}},"text":{"field":"v","type":"nominal"},"color":{"field":"dir","type":"nominal","scale":{"domain":["up","down","flat"],"range":["#FF0000","#00B050","#000000"]}}}},
{"width":212,"height":38,"data":{"name":"ln"},"transform":[{"filter":"datum.c==='GC001'"}],"layer":[{"mark":{"type":"line","color":"#8497B0","strokeWidth":1.2},"encoding":{"x":{"field":"d","type":"ordinal","scale":{"type":"point","padding":0.6}},"y":{"field":"r","type":"quantitative","scale":{"zero":false,"nice":false}}}},{"transform":[{"joinaggregate":[{"op":"max","field":"r","as":"mx"}]},{"filter":"datum.r===datum.mx"}],"mark":{"type":"circle","color":"#FF0000","size":10,"opacity":1},"encoding":{"x":{"field":"d","type":"ordinal"},"y":{"field":"r","type":"quantitative"}}}]},
{"width":212,"height":26,"data":{"name":"tx"},"transform":[{"filter":"datum.c==='GC001'&&datum.s==='vol'"}],"mark":"text","encoding":{"x":{"field":"k","type":"nominal","scale":{"domain":["level","change"]}},"text":{"field":"v","type":"nominal"},"color":{"field":"dir","type":"nominal","scale":{"domain":["up","down","flat"],"range":["#FF0000","#00B050","#000000"]}}}},
{"width":212,"height":18,"data":{"name":"tx"},"transform":[{"filter":"datum.c==='GC001'&&datum.s==='share'"}],"mark":"text","encoding":{"x":{"field":"k","type":"nominal","scale":{"domain":["level","change"]}},"text":{"field":"v","type":"nominal"},"color":{"field":"dir","type":"nominal","scale":{"domain":["up","down","flat"],"range":["#FF0000","#00B050","#000000"]}}}}
],"spacing":0,"bounds":"flush"},
{"width":1,"height":129,"view":{"fill":"#404040","stroke":null},"data":{"values":[]},"mark":"text","encoding":{}},
{"vconcat":[
{"width":212,"height":22,"view":{"fill":"#305A8C","stroke":null},"data":{"values":[{"t":"GC007"}]},"mark":{"type":"text","color":"#FFFFFF"},"encoding":{"text":{"field":"t","type":"nominal"}}},
{"width":212,"height":25,"data":{"name":"tx"},"transform":[{"filter":"datum.c==='GC007'&&datum.s==='top'"}],"mark":"text","encoding":{"x":{"field":"k","type":"nominal","scale":{"domain":["level","change"]}},"text":{"field":"v","type":"nominal"},"color":{"field":"dir","type":"nominal","scale":{"domain":["up","down","flat"],"range":["#FF0000","#00B050","#000000"]}}}},
{"width":212,"height":38,"data":{"name":"ln"},"transform":[{"filter":"datum.c==='GC007'"}],"layer":[{"mark":{"type":"line","color":"#8497B0","strokeWidth":1.2},"encoding":{"x":{"field":"d","type":"ordinal","scale":{"type":"point","padding":0.6}},"y":{"field":"r","type":"quantitative","scale":{"zero":false,"nice":false}}}},{"transform":[{"joinaggregate":[{"op":"max","field":"r","as":"mx"}]},{"filter":"datum.r===datum.mx"}],"mark":{"type":"circle","color":"#FF0000","size":10,"opacity":1},"encoding":{"x":{"field":"d","type":"ordinal"},"y":{"field":"r","type":"quantitative"}}}]},
{"width":212,"height":26,"data":{"name":"tx"},"transform":[{"filter":"datum.c==='GC007'&&datum.s==='vol'"}],"mark":"text","encoding":{"x":{"field":"k","type":"nominal","scale":{"domain":["level","change"]}},"text":{"field":"v","type":"nominal"},"color":{"field":"dir","type":"nominal","scale":{"domain":["up","down","flat"],"range":["#FF0000","#00B050","#000000"]}}}},
{"width":212,"height":18,"data":{"name":"tx"},"transform":[{"filter":"datum.c==='GC007'&&datum.s==='share'"}],"mark":"text","encoding":{"x":{"field":"k","type":"nominal","scale":{"domain":["level","change"]}},"text":{"field":"v","type":"nominal"},"color":{"field":"dir","type":"nominal","scale":{"domain":["up","down","flat"],"range":["#FF0000","#00B050","#000000"]}}}}
],"spacing":0,"bounds":"flush"},
{"width":1,"height":129,"view":{"fill":"#404040","stroke":null},"data":{"values":[]},"mark":"text","encoding":{}},
{"vconcat":[
{"width":213,"height":22,"view":{"fill":"#305A8C","stroke":null},"data":{"values":[{"t":"GC014"}]},"mark":{"type":"text","color":"#FFFFFF"},"encoding":{"text":{"field":"t","type":"nominal"}}},
{"width":213,"height":25,"data":{"name":"tx"},"transform":[{"filter":"datum.c==='GC014'&&datum.s==='top'"}],"mark":"text","encoding":{"x":{"field":"k","type":"nominal","scale":{"domain":["level","change"]}},"text":{"field":"v","type":"nominal"},"color":{"field":"dir","type":"nominal","scale":{"domain":["up","down","flat"],"range":["#FF0000","#00B050","#000000"]}}}},
{"width":213,"height":38,"data":{"name":"ln"},"transform":[{"filter":"datum.c==='GC014'"}],"layer":[{"mark":{"type":"line","color":"#8497B0","strokeWidth":1.2},"encoding":{"x":{"field":"d","type":"ordinal","scale":{"type":"point","padding":0.6}},"y":{"field":"r","type":"quantitative","scale":{"zero":false,"nice":false}}}},{"transform":[{"joinaggregate":[{"op":"max","field":"r","as":"mx"}]},{"filter":"datum.r===datum.mx"}],"mark":{"type":"circle","color":"#FF0000","size":10,"opacity":1},"encoding":{"x":{"field":"d","type":"ordinal"},"y":{"field":"r","type":"quantitative"}}}]},
{"width":213,"height":26,"data":{"name":"tx"},"transform":[{"filter":"datum.c==='GC014'&&datum.s==='vol'"}],"mark":"text","encoding":{"x":{"field":"k","type":"nominal","scale":{"domain":["level","change"]}},"text":{"field":"v","type":"nominal"},"color":{"field":"dir","type":"nominal","scale":{"domain":["up","down","flat"],"range":["#FF0000","#00B050","#000000"]}}}},
{"width":213,"height":18,"data":{"name":"tx"},"transform":[{"filter":"datum.c==='GC014'&&datum.s==='share'"}],"mark":"text","encoding":{"x":{"field":"k","type":"nominal","scale":{"domain":["level","change"]}},"text":{"field":"v","type":"nominal"},"color":{"field":"dir","type":"nominal","scale":{"domain":["up","down","flat"],"range":["#FF0000","#00B050","#000000"]}}}}
],"spacing":0,"bounds":"flush"},
{"width":1,"height":129,"view":{"fill":"#404040","stroke":null},"data":{"values":[]},"mark":"text","encoding":{}}
],"spacing":0},
{"width":640,"height":1,"view":{"fill":"#404040","stroke":null},"data":{"values":[]},"mark":"text","encoding":{}},
{"hconcat":[
{"vconcat":[
{"width":212,"height":22,"view":{"fill":"#305A8C","stroke":null},"data":{"values":[{"t":"DR成交"}]},"mark":{"type":"text","color":"#FFFFFF"},"encoding":{"text":{"field":"t","type":"nominal"}}},
{"width":212,"height":24,"data":{"name":"tx"},"transform":[{"filter":"datum.c==='DRV'&&datum.s==='top'"}],"mark":"text","encoding":{"x":{"field":"k","type":"nominal","scale":{"domain":["level","change"]}},"text":{"field":"v","type":"nominal"},"color":{"field":"dir","type":"nominal","scale":{"domain":["up","down","flat"],"range":["#FF0000","#00B050","#000000"]}}}},
{"width":212,"height":38,"data":{"name":"br"},"transform":[{"filter":"datum.c==='DRV'"},{"joinaggregate":[{"op":"max","field":"v","as":"mx"}]}],"mark":"bar","encoding":{"x":{"field":"d","type":"ordinal","scale":{"paddingInner":0.28,"paddingOuter":0.3}},"y":{"field":"v","type":"quantitative","scale":{"nice":false}},"color":{"condition":{"test":"datum.v===datum.mx","value":"#1F4E79"},"value":"#9DC3E6"}}}
],"spacing":0,"bounds":"flush"},
{"width":1,"height":84,"view":{"fill":"#404040","stroke":null},"data":{"values":[]},"mark":"text","encoding":{}},
{"vconcat":[
{"width":212,"height":22,"view":{"fill":"#305A8C","stroke":null},"data":{"values":[{"t":"DR成交占比"}]},"mark":{"type":"text","color":"#FFFFFF"},"encoding":{"text":{"field":"t","type":"nominal"}}},
{"width":212,"height":24,"data":{"name":"tx"},"transform":[{"filter":"datum.c==='DRS'&&datum.s==='top'"}],"mark":"text","encoding":{"x":{"field":"k","type":"nominal","scale":{"domain":["level","change"]}},"text":{"field":"v","type":"nominal"},"color":{"field":"dir","type":"nominal","scale":{"domain":["up","down","flat"],"range":["#FF0000","#00B050","#000000"]}}}},
{"width":212,"height":38,"data":{"name":"ln"},"transform":[{"filter":"datum.c==='DRS'"}],"layer":[{"mark":{"type":"line","color":"#8497B0","strokeWidth":1.2},"encoding":{"x":{"field":"d","type":"ordinal","scale":{"type":"point","padding":0.7}},"y":{"field":"r","type":"quantitative","scale":{"zero":false,"nice":false}}}},{"transform":[{"joinaggregate":[{"op":"max","field":"r","as":"mx"}]},{"filter":"datum.r===datum.mx"}],"mark":{"type":"circle","color":"#FF0000","size":10,"opacity":1},"encoding":{"x":{"field":"d","type":"ordinal"},"y":{"field":"r","type":"quantitative"}}}]}
],"spacing":0,"bounds":"flush"},
{"width":1,"height":84,"view":{"fill":"#404040","stroke":null},"data":{"values":[]},"mark":"text","encoding":{}},
{"vconcat":[
{"width":213,"height":22,"view":{"fill":"#305A8C","stroke":null},"data":{"values":[{"t":"GC成交"}]},"mark":{"type":"text","color":"#FFFFFF"},"encoding":{"text":{"field":"t","type":"nominal"}}},
{"width":213,"height":24,"data":{"name":"tx"},"transform":[{"filter":"datum.c==='GCV'&&datum.s==='top'"}],"mark":"text","encoding":{"x":{"field":"k","type":"nominal","scale":{"domain":["level","change"]}},"text":{"field":"v","type":"nominal"},"color":{"field":"dir","type":"nominal","scale":{"domain":["up","down","flat"],"range":["#FF0000","#00B050","#000000"]}}}},
{"width":213,"height":38,"data":{"name":"br"},"transform":[{"filter":"datum.c==='GCV'"},{"joinaggregate":[{"op":"max","field":"v","as":"mx"}]}],"mark":"bar","encoding":{"x":{"field":"d","type":"ordinal","scale":{"paddingInner":0.28,"paddingOuter":0.3}},"y":{"field":"v","type":"quantitative","scale":{"nice":false}},"color":{"condition":{"test":"datum.v===datum.mx","value":"#1F4E79"},"value":"#9DC3E6"}}}
],"spacing":0,"bounds":"flush"},
{"width":1,"height":84,"view":{"fill":"#404040","stroke":null},"data":{"values":[]},"mark":"text","encoding":{}}
],"spacing":0},
{"width":640,"height":1,"view":{"fill":"#404040","stroke":null},"data":{"values":[]},"mark":"text","encoding":{}},
{"hconcat":[
{"vconcat":[
{"width":212,"height":22,"view":{"fill":"#305A8C","stroke":null},"data":{"values":[{"t":"CR成交"}]},"mark":{"type":"text","color":"#FFFFFF"},"encoding":{"text":{"field":"t","type":"nominal"}}},
{"width":212,"height":25,"data":{"name":"tx"},"transform":[{"filter":"datum.c==='CRV'&&datum.s==='top'"}],"mark":"text","encoding":{"x":{"field":"k","type":"nominal","scale":{"domain":["level","change"]}},"text":{"field":"v","type":"nominal"},"color":{"field":"dir","type":"nominal","scale":{"domain":["up","down","flat"],"range":["#FF0000","#00B050","#000000"]}}}},
{"width":212,"height":40,"data":{"name":"br"},"transform":[{"filter":"datum.c==='CRV'"},{"joinaggregate":[{"op":"max","field":"v","as":"mx"}]}],"mark":"bar","encoding":{"x":{"field":"d","type":"ordinal","scale":{"paddingInner":0.28,"paddingOuter":0.3}},"y":{"field":"v","type":"quantitative","scale":{"nice":false}},"color":{"condition":{"test":"datum.v===datum.mx","value":"#1F4E79"},"value":"#9DC3E6"}}}
],"spacing":0,"bounds":"flush"},
{"width":1,"height":87,"view":{"fill":"#404040","stroke":null},"data":{"values":[]},"mark":"text","encoding":{}},
{"vconcat":[
{"width":212,"height":22,"view":{"fill":"#305A8C","stroke":null},"data":{"values":[{"t":"IBO成交"}]},"mark":{"type":"text","color":"#FFFFFF"},"encoding":{"text":{"field":"t","type":"nominal"}}},
{"width":212,"height":25,"data":{"name":"tx"},"transform":[{"filter":"datum.c==='IBO'&&datum.s==='top'"}],"mark":"text","encoding":{"x":{"field":"k","type":"nominal","scale":{"domain":["level","change"]}},"text":{"field":"v","type":"nominal"},"color":{"field":"dir","type":"nominal","scale":{"domain":["up","down","flat"],"range":["#FF0000","#00B050","#000000"]}}}},
{"width":212,"height":40,"data":{"name":"br"},"transform":[{"filter":"datum.c==='IBO'"},{"joinaggregate":[{"op":"max","field":"v","as":"mx"}]}],"mark":"bar","encoding":{"x":{"field":"d","type":"ordinal","scale":{"paddingInner":0.28,"paddingOuter":0.3}},"y":{"field":"v","type":"quantitative","scale":{"nice":false}},"color":{"condition":{"test":"datum.v===datum.mx","value":"#1F4E79"},"value":"#9DC3E6"}}}
],"spacing":0,"bounds":"flush"},
{"width":1,"height":87,"view":{"fill":"#404040","stroke":null},"data":{"values":[]},"mark":"text","encoding":{}},
{"vconcat":[
{"width":213,"height":22,"view":{"fill":"#305A8C","stroke":null},"data":{"values":[{"t":"OR成交"}]},"mark":{"type":"text","color":"#FFFFFF"},"encoding":{"text":{"field":"t","type":"nominal"}}},
{"width":213,"height":25,"data":{"name":"tx"},"transform":[{"filter":"datum.c==='ORV'&&datum.s==='top'"}],"mark":"text","encoding":{"x":{"field":"k","type":"nominal","scale":{"domain":["level","change"]}},"text":{"field":"v","type":"nominal"},"color":{"field":"dir","type":"nominal","scale":{"domain":["up","down","flat"],"range":["#FF0000","#00B050","#000000"]}}}},
{"width":213,"height":40,"data":{"name":"br"},"transform":[{"filter":"datum.c==='ORV'"},{"joinaggregate":[{"op":"max","field":"v","as":"mx"}]}],"mark":"bar","encoding":{"x":{"field":"d","type":"ordinal","scale":{"paddingInner":0.28,"paddingOuter":0.3}},"y":{"field":"v","type":"quantitative","scale":{"nice":false}},"color":{"condition":{"test":"datum.v===datum.mx","value":"#1F4E79"},"value":"#9DC3E6"}}}
],"spacing":0,"bounds":"flush"},
{"width":1,"height":87,"view":{"fill":"#404040","stroke":null},"data":{"values":[]},"mark":"text","encoding":{}}
],"spacing":0},
{"width":640,"height":1,"view":{"fill":"#404040","stroke":null},"data":{"values":[]},"mark":"text","encoding":{}},
{"hconcat":[
{"vconcat":[
{"width":212,"height":23,"view":{"fill":"#305A8C","stroke":null},"data":{"values":[{"t":"R001-DR001价差"}]},"mark":{"type":"text","color":"#FFFFFF"},"encoding":{"text":{"field":"t","type":"nominal"}}},
{"width":212,"height":25,"data":{"name":"tx"},"transform":[{"filter":"datum.c==='SP1'&&datum.s==='top'"}],"mark":"text","encoding":{"x":{"field":"k","type":"nominal","scale":{"domain":["level","change"]}},"text":{"field":"v","type":"nominal"},"color":{"field":"dir","type":"nominal","scale":{"domain":["up","down","flat"],"range":["#FF0000","#00B050","#000000"]}}}},
{"width":212,"height":41,"data":{"name":"br"},"transform":[{"filter":"datum.c==='SP1'"},{"joinaggregate":[{"op":"max","field":"v","as":"mx"}]}],"mark":"bar","encoding":{"x":{"field":"d","type":"ordinal","scale":{"paddingInner":0.28,"paddingOuter":0.3}},"y":{"field":"v","type":"quantitative","scale":{"nice":false}},"color":{"condition":{"test":"datum.v===datum.mx","value":"#1F4E79"},"value":"#9DC3E6"}}}
],"spacing":0,"bounds":"flush"},
{"width":1,"height":89,"view":{"fill":"#404040","stroke":null},"data":{"values":[]},"mark":"text","encoding":{}},
{"vconcat":[
{"width":212,"height":23,"view":{"fill":"#305A8C","stroke":null},"data":{"values":[{"t":"R007-DR007价差"}]},"mark":{"type":"text","color":"#FFFFFF"},"encoding":{"text":{"field":"t","type":"nominal"}}},
{"width":212,"height":25,"data":{"name":"tx"},"transform":[{"filter":"datum.c==='SP7'&&datum.s==='top'"}],"mark":"text","encoding":{"x":{"field":"k","type":"nominal","scale":{"domain":["level","change"]}},"text":{"field":"v","type":"nominal"},"color":{"field":"dir","type":"nominal","scale":{"domain":["up","down","flat"],"range":["#FF0000","#00B050","#000000"]}}}},
{"width":212,"height":41,"data":{"name":"br"},"transform":[{"filter":"datum.c==='SP7'"},{"joinaggregate":[{"op":"max","field":"v","as":"mx"}]}],"mark":"bar","encoding":{"x":{"field":"d","type":"ordinal","scale":{"paddingInner":0.28,"paddingOuter":0.3}},"y":{"field":"v","type":"quantitative","scale":{"nice":false}},"color":{"condition":{"test":"datum.v===datum.mx","value":"#1F4E79"},"value":"#9DC3E6"}}}
],"spacing":0,"bounds":"flush"},
{"width":1,"height":89,"view":{"fill":"#404040","stroke":null},"data":{"values":[]},"mark":"text","encoding":{}},
{"vconcat":[
{"width":213,"height":23,"view":{"fill":"#305A8C","stroke":null},"data":{"values":[{"t":"R014-DR014价差"}]},"mark":{"type":"text","color":"#FFFFFF"},"encoding":{"text":{"field":"t","type":"nominal"}}},
{"width":213,"height":25,"data":{"name":"tx"},"transform":[{"filter":"datum.c==='SP14'&&datum.s==='top'"}],"mark":"text","encoding":{"x":{"field":"k","type":"nominal","scale":{"domain":["level","change"]}},"text":{"field":"v","type":"nominal"},"color":{"field":"dir","type":"nominal","scale":{"domain":["up","down","flat"],"range":["#FF0000","#00B050","#000000"]}}}},
{"width":213,"height":41,"data":{"name":"br"},"transform":[{"filter":"datum.c==='SP14'"},{"joinaggregate":[{"op":"max","field":"v","as":"mx"}]}],"mark":"bar","encoding":{"x":{"field":"d","type":"ordinal","scale":{"paddingInner":0.28,"paddingOuter":0.3}},"y":{"field":"v","type":"quantitative","scale":{"nice":false}},"color":{"condition":{"test":"datum.v===datum.mx","value":"#1F4E79"},"value":"#9DC3E6"}}}
],"spacing":0,"bounds":"flush"},
{"width":1,"height":89,"view":{"fill":"#404040","stroke":null},"data":{"values":[]},"mark":"text","encoding":{}}
],"spacing":0},
{"width":640,"height":1,"view":{"fill":"#404040","stroke":null},"data":{"values":[]},"mark":"text","encoding":{}}
]
}
